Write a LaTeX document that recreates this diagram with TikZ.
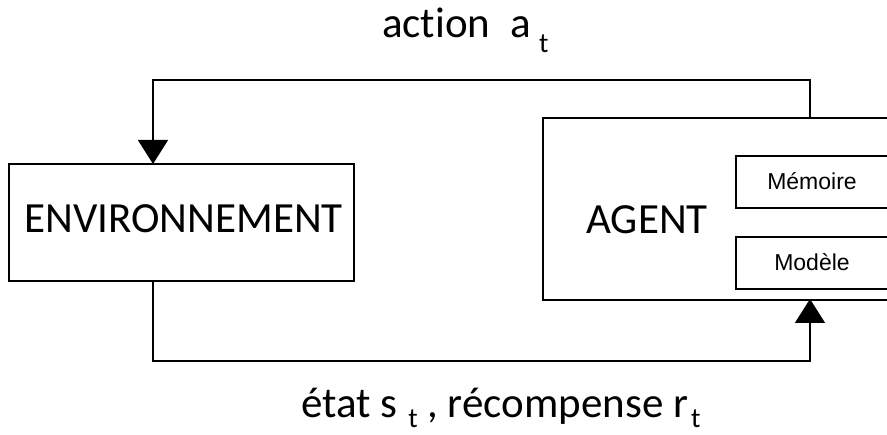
\documentclass[tikz,border=0pt]{standalone}
\usepackage{fontspec}
\setmainfont[Ligatures={NoCommon,NoContextual}]{Carlito}
\newfontfamily\arialfont{Liberation Sans}
\usetikzlibrary{arrows.meta}
\tikzset{
  box/.style={draw, line width=1.6pt, rectangle, inner sep=0pt},
  flow/.style={line width=1.6pt},
  tip/.style={-{Triangle[width=30pt,length=24pt]}},
  bigtext/.style={font=\fontsize{43}{50}\selectfont, inner sep=0pt},
  labtext/.style={font=\fontsize{43}{50}\selectfont, inner sep=0pt, anchor=base west},
  smalltext/.style={font=\arialfont\fontsize{23}{27}\selectfont, inner sep=0pt}
}
\newcommand{\subt}[1]{\raisebox{-#1}{\fontsize{28}{30}\selectfont t}}
\begin{document}
\begin{tikzpicture}[x=1pt,y=-1pt]
\useasboundingbox (0,0) rectangle (887,435);
\clip (0,0) rectangle (887,435);
% boxes
\node[box, minimum width=345pt, minimum height=117pt] (env) at (181.5,222.5) {};
\node[bigtext] (envtext) at (183.5,219) {ENVIRONNEMENT};
\node[box, minimum width=400pt, minimum height=182pt, anchor=north west] (agent) at (542,117) {};
\node[bigtext] (agenttext) at (647,219.5) {AGENT};
\node[box, minimum width=200pt, minimum height=52pt, anchor=north west] (mem) at (735,155) {};
\node[smalltext] (memtext) at (812,181) {Mémoire};
\node[box, minimum width=200pt, minimum height=52pt, anchor=north west] (mod) at (735,236) {};
\node[smalltext] (modtext) at (812,262) {Modèle};
% connection points
\coordinate (atop) at (810,117);
\coordinate (abot) at (810,299);
\coordinate (etop) at (153,164);
\coordinate (ebot) at (153,281);
% connectors
\draw[flow, tip] (atop) |- (153,80) -- (etop);
\draw[flow, tip] (ebot) |- (810,361) -- (abot);
% labels
\node[labtext] (action) at (382,38) {action\hspace{20pt}a\hspace{8pt}\subt{15pt}};
\node[labtext] (etat) at (301,418) {état s\hspace{11pt}\subt{10pt}\ , récompense r\hspace{3pt}\subt{10pt}};
\end{tikzpicture}
\end{document}
